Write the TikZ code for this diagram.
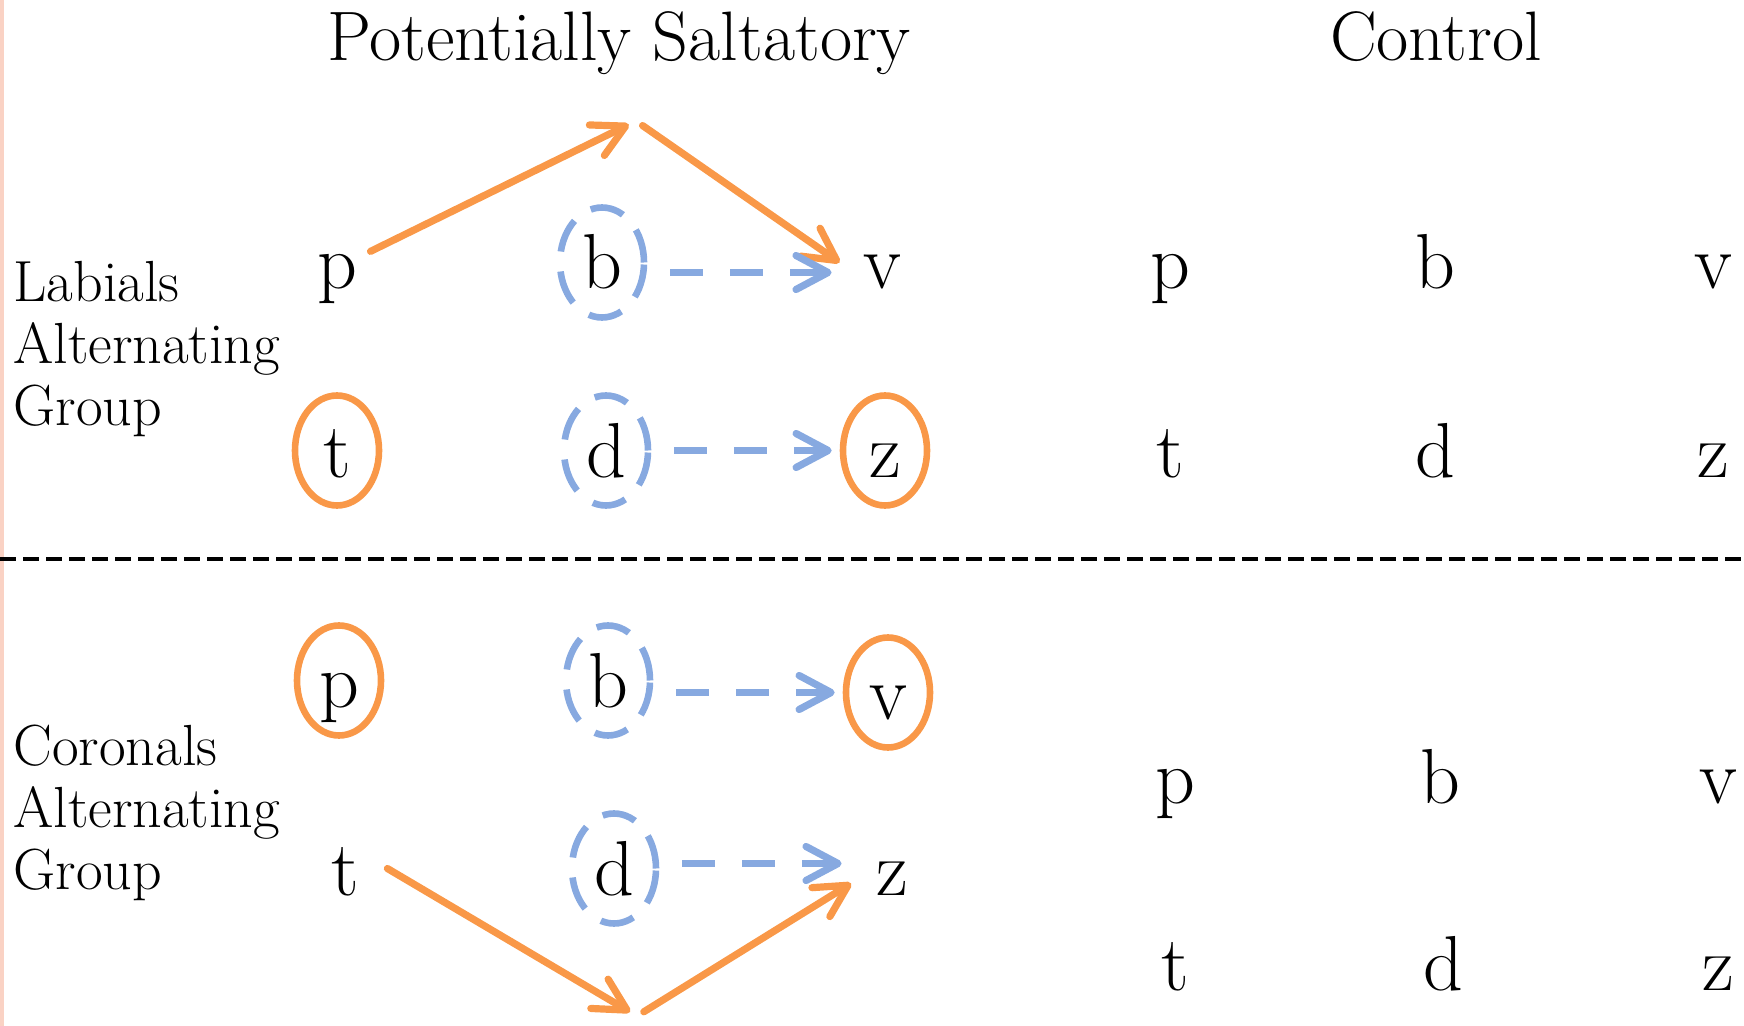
\documentclass[tikz,border=0pt]{standalone}
\usepackage{fontspec}
\usepackage{xcolor}
\usepackage{tikz}
\usetikzlibrary{shapes.geometric, arrows.meta, positioning}

\definecolor{saltorange}{RGB}{249,152,72}
\definecolor{altblue}{RGB}{135,169,224}
\definecolor{edgepink}{RGB}{250,210,196}

\begin{document}
\begin{tikzpicture}[x=0.5pt, y=-0.5pt, on grid,
        seg/.style={ellipse, inner sep=0pt, minimum width=42pt, minimum height=55pt,
            text height=26.5pt, text depth=0pt, font=\fontsize{39}{39}\selectfont},
        jumped/.style={seg, draw=saltorange, line width=3.3pt},
        kept/.style={seg, draw=altblue, line width=3.3pt, dash pattern=on 17pt off 10pt},
        head/.style={inner sep=0pt, anchor=base, font=\fontsize{35}{40}\selectfont},
        grp/.style={inner sep=0pt, anchor=west, align=left, font=\fontsize{29}{31}\selectfont},
        salt/.style={draw=saltorange, line width=3.6pt, line cap=round,
            -{Straight Barb[length=16pt, width=17pt, round]}},
        altarrow/.style={draw=altblue, line width=3.6pt, dash pattern=on 16.5pt off 13.5pt,
            -{Straight Barb[length=16pt, width=17pt, round]}, shorten <=11.5pt, shorten >=4pt}]
        \useasboundingbox (0,0) rectangle (1744,1026);
        \draw[edgepink, line width=2pt] (2,0) -- (2,1026);

        \node[head] (saltitle) at (619,61) {Potentially Saltatory};
        \node[head] (ctltitle) at (1436,61) {Control};

        \node[grp] (labgrp) at (13,349.5) {Labials\\Alternating\\Group};
        \node[grp] (corgrp) at (13,812.5) {Coronals\\Alternating\\Group};

        % labials, saltatory side
        \node[seg] (p1) at (337,262.5) {p};
        \node[kept] (b1) [right=132.5pt of p1] {b};
        \node[seg] (v1) [right=140pt of b1] {v};
        \node[jumped] (t1) [below=94pt of p1] {t};
        \node[kept] (d1) [below=94pt of b1, xshift=2pt] {d};
        \node[jumped] (z1) [below=94pt of v1, xshift=1.5pt] {z};

        % coronals, saltatory side
        \node[jumped] (p2) [below=115pt of t1, xshift=1pt] {p};
        \node[kept] (b2) [right=132.5pt of p2, xshift=2pt] {b};
        \node[jumped] (v2) [right=140pt of b2, yshift=-6pt] {v};
        \node[seg] (t2) [below=94pt of p2, xshift=3pt] {t};
        \node[kept] (d2) [below=94pt of b2, xshift=3pt] {d};
        \node[seg] (z2) [below=88pt of v2, xshift=2pt] {z};

        % control
        \node[seg] (cp1) [right=144pt of v1] {p};
        \node[seg] (cb1) [right=132.5pt of cp1] {b};
        \node[seg] (cv1) [right=139pt of cb1] {v};
        \node[seg] (ct1) [below=94pt of cp1] {t};
        \node[seg] (cd1) [below=94pt of cb1] {d};
        \node[seg] (cz1) [below=94pt of cv1] {z};

        \node[seg] (cp2) [below=163pt of ct1, xshift=2.5pt] {p};
        \node[seg] (cb2) [right=132.5pt of cp2] {b};
        \node[seg] (cv2) [right=139pt of cb2] {v};
        \node[seg] (ct2) [below=93.5pt of cp2] {t};
        \node[seg] (cd2) [below=93.5pt of cb2, xshift=1.5pt] {d};
        \node[seg] (cz2) [below=93.5pt of cv2] {z};

        \draw[black, line width=2.2pt, dash pattern=on 8pt off 3.5pt] (0,559) -- (1744,559);

        \coordinate (hop1) at (636,121);
        \coordinate (hop2) at (637,1016);

        \draw[salt, shorten >=4pt] ([xshift=-4pt]p1.15) -- (hop1);
        \draw[salt, shorten <=4pt] (hop1) -- (v1.west);
        \draw[salt, shorten >=4pt] (t2.east) -- (hop2);
        \draw[salt, shorten <=4pt] (hop2) -- (z2.200);

        \draw[altarrow] ([yshift=-5pt]b1.east) -- ([yshift=-5pt]v1.west);
        \draw[altarrow] (d1) -- (z1);
        \draw[altarrow] (b2.east |- v2.west) -- (v2.west);
        \draw[altarrow] ([yshift=2.5pt]d2.east) -- ([yshift=2.5pt]d2.east -| z2.west);
    \end{tikzpicture}
\end{document}
